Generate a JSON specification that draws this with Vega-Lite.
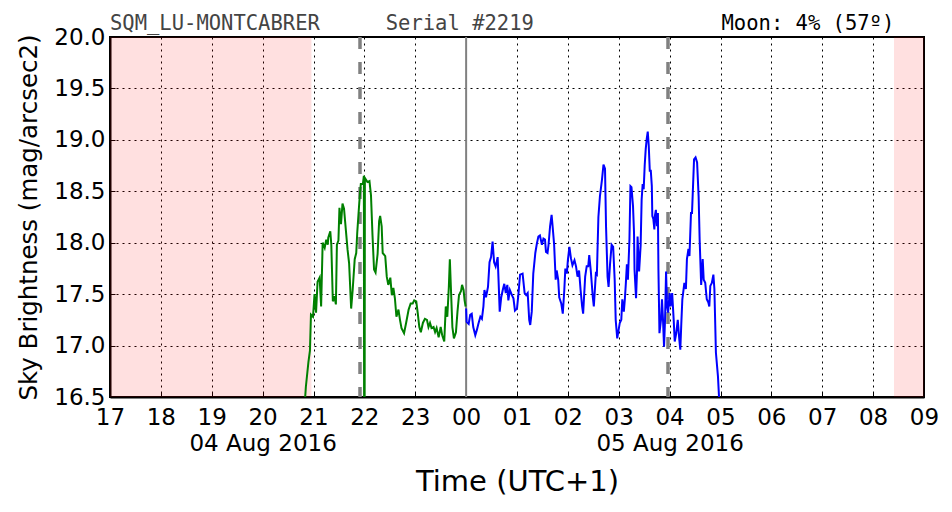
{
  "$schema": "https://vega.github.io/schema/vega-lite/v6.json",
  "width": 814,
  "height": 360,
  "autosize": {"type": "none"},
  "padding": {"left": 110, "top": 37, "right": 28, "bottom": 115},
  "background": "white",
  "config": {
    "font": "DejaVu Sans",
    "view": {"stroke": "black", "strokeWidth": 2},
    "axis": {
      "domainColor": "black",
      "domainWidth": 2,
      "gridColor": "black",
      "gridDash": [2, 4],
      "gridWidth": 1,
      "gridOpacity": 1,
      "tickColor": "black",
      "tickSize": -5,
      "tickWidth": 1,
      "labelColor": "black",
      "labelFontSize": 23,
      "titleColor": "black",
      "titleFontWeight": "normal"
    }
  },
  "datasets": {
    "sqm": [
      {"hour": 20.83, "mag": 16.45, "part": "evening"},
      {"hour": 20.85, "mag": 16.60, "part": "evening"},
      {"hour": 20.90, "mag": 16.84, "part": "evening"},
      {"hour": 20.93, "mag": 16.95, "part": "evening"},
      {"hour": 20.95, "mag": 17.30, "part": "evening"},
      {"hour": 20.99, "mag": 17.28, "part": "evening"},
      {"hour": 21.02, "mag": 17.50, "part": "evening"},
      {"hour": 21.05, "mag": 17.32, "part": "evening"},
      {"hour": 21.08, "mag": 17.62, "part": "evening"},
      {"hour": 21.12, "mag": 17.66, "part": "evening"},
      {"hour": 21.15, "mag": 17.38, "part": "evening"},
      {"hour": 21.18, "mag": 18.00, "part": "evening"},
      {"hour": 21.22, "mag": 17.95, "part": "evening"},
      {"hour": 21.25, "mag": 18.03, "part": "evening"},
      {"hour": 21.28, "mag": 17.98, "part": "evening"},
      {"hour": 21.29, "mag": 18.05, "part": "evening"},
      {"hour": 21.33, "mag": 18.11, "part": "evening"},
      {"hour": 21.35, "mag": 17.98, "part": "evening"},
      {"hour": 21.38, "mag": 17.43, "part": "evening"},
      {"hour": 21.41, "mag": 17.48, "part": "evening"},
      {"hour": 21.44, "mag": 17.40, "part": "evening"},
      {"hour": 21.46, "mag": 17.98, "part": "evening"},
      {"hour": 21.49, "mag": 18.02, "part": "evening"},
      {"hour": 21.51, "mag": 18.34, "part": "evening"},
      {"hour": 21.54, "mag": 18.18, "part": "evening"},
      {"hour": 21.57, "mag": 18.38, "part": "evening"},
      {"hour": 21.60, "mag": 18.33, "part": "evening"},
      {"hour": 21.64, "mag": 18.10, "part": "evening"},
      {"hour": 21.67, "mag": 17.93, "part": "evening"},
      {"hour": 21.70, "mag": 17.80, "part": "evening"},
      {"hour": 21.74, "mag": 17.36, "part": "evening"},
      {"hour": 21.77, "mag": 17.54, "part": "evening"},
      {"hour": 21.81, "mag": 17.84, "part": "evening"},
      {"hour": 21.84, "mag": 17.90, "part": "evening"},
      {"hour": 21.86, "mag": 18.10, "part": "evening"},
      {"hour": 21.90, "mag": 18.39, "part": "evening"},
      {"hour": 21.93, "mag": 18.57, "part": "evening"},
      {"hour": 21.97, "mag": 18.57, "part": "evening"},
      {"hour": 21.99, "mag": 18.65, "part": "evening"},
      {"hour": 22.00, "mag": 14.00, "part": "evening"},
      {"hour": 22.01, "mag": 18.63, "part": "evening"},
      {"hour": 22.06, "mag": 18.59, "part": "evening"},
      {"hour": 22.10, "mag": 18.60, "part": "evening"},
      {"hour": 22.13, "mag": 18.46, "part": "evening"},
      {"hour": 22.16, "mag": 18.07, "part": "evening"},
      {"hour": 22.19, "mag": 17.74, "part": "evening"},
      {"hour": 22.22, "mag": 17.71, "part": "evening"},
      {"hour": 22.26, "mag": 17.89, "part": "evening"},
      {"hour": 22.29, "mag": 18.21, "part": "evening"},
      {"hour": 22.31, "mag": 18.26, "part": "evening"},
      {"hour": 22.34, "mag": 18.16, "part": "evening"},
      {"hour": 22.36, "mag": 17.90, "part": "evening"},
      {"hour": 22.41, "mag": 17.87, "part": "evening"},
      {"hour": 22.44, "mag": 17.67, "part": "evening"},
      {"hour": 22.47, "mag": 17.59, "part": "evening"},
      {"hour": 22.51, "mag": 17.66, "part": "evening"},
      {"hour": 22.54, "mag": 17.49, "part": "evening"},
      {"hour": 22.57, "mag": 17.56, "part": "evening"},
      {"hour": 22.60, "mag": 17.46, "part": "evening"},
      {"hour": 22.63, "mag": 17.28, "part": "evening"},
      {"hour": 22.67, "mag": 17.35, "part": "evening"},
      {"hour": 22.70, "mag": 17.25, "part": "evening"},
      {"hour": 22.73, "mag": 17.17, "part": "evening"},
      {"hour": 22.78, "mag": 17.12, "part": "evening"},
      {"hour": 22.82, "mag": 17.22, "part": "evening"},
      {"hour": 22.87, "mag": 17.35, "part": "evening"},
      {"hour": 22.91, "mag": 17.41, "part": "evening"},
      {"hour": 22.95, "mag": 17.41, "part": "evening"},
      {"hour": 22.98, "mag": 17.44, "part": "evening"},
      {"hour": 23.02, "mag": 17.43, "part": "evening"},
      {"hour": 23.05, "mag": 17.31, "part": "evening"},
      {"hour": 23.08, "mag": 17.18, "part": "evening"},
      {"hour": 23.11, "mag": 17.13, "part": "evening"},
      {"hour": 23.15, "mag": 17.22, "part": "evening"},
      {"hour": 23.19, "mag": 17.26, "part": "evening"},
      {"hour": 23.23, "mag": 17.25, "part": "evening"},
      {"hour": 23.26, "mag": 17.18, "part": "evening"},
      {"hour": 23.29, "mag": 17.22, "part": "evening"},
      {"hour": 23.32, "mag": 17.17, "part": "evening"},
      {"hour": 23.36, "mag": 17.18, "part": "evening"},
      {"hour": 23.39, "mag": 17.13, "part": "evening"},
      {"hour": 23.42, "mag": 17.17, "part": "evening"},
      {"hour": 23.46, "mag": 17.08, "part": "evening"},
      {"hour": 23.50, "mag": 17.18, "part": "evening"},
      {"hour": 23.53, "mag": 17.10, "part": "evening"},
      {"hour": 23.57, "mag": 17.04, "part": "evening"},
      {"hour": 23.60, "mag": 17.38, "part": "evening"},
      {"hour": 23.63, "mag": 17.28, "part": "evening"},
      {"hour": 23.66, "mag": 17.57, "part": "evening"},
      {"hour": 23.68, "mag": 17.84, "part": "evening"},
      {"hour": 23.70, "mag": 17.57, "part": "evening"},
      {"hour": 23.73, "mag": 17.18, "part": "evening"},
      {"hour": 23.76, "mag": 17.07, "part": "evening"},
      {"hour": 23.80, "mag": 17.13, "part": "evening"},
      {"hour": 23.83, "mag": 17.33, "part": "evening"},
      {"hour": 23.86, "mag": 17.49, "part": "evening"},
      {"hour": 23.90, "mag": 17.53, "part": "evening"},
      {"hour": 23.92, "mag": 17.59, "part": "evening"},
      {"hour": 23.95, "mag": 17.54, "part": "evening"},
      {"hour": 23.97, "mag": 17.44, "part": "evening"},
      {"hour": 23.99, "mag": 17.38, "part": "evening"},
      {"hour": 24.00, "mag": 17.36, "part": "morning"},
      {"hour": 24.01, "mag": 17.23, "part": "morning"},
      {"hour": 24.05, "mag": 17.21, "part": "morning"},
      {"hour": 24.08, "mag": 17.30, "part": "morning"},
      {"hour": 24.11, "mag": 17.31, "part": "morning"},
      {"hour": 24.14, "mag": 17.18, "part": "morning"},
      {"hour": 24.18, "mag": 17.10, "part": "morning"},
      {"hour": 24.21, "mag": 17.15, "part": "morning"},
      {"hour": 24.24, "mag": 17.21, "part": "morning"},
      {"hour": 24.28, "mag": 17.28, "part": "morning"},
      {"hour": 24.31, "mag": 17.26, "part": "morning"},
      {"hour": 24.34, "mag": 17.38, "part": "morning"},
      {"hour": 24.36, "mag": 17.54, "part": "morning"},
      {"hour": 24.39, "mag": 17.47, "part": "morning"},
      {"hour": 24.43, "mag": 17.57, "part": "morning"},
      {"hour": 24.46, "mag": 17.81, "part": "morning"},
      {"hour": 24.49, "mag": 17.86, "part": "morning"},
      {"hour": 24.52, "mag": 18.01, "part": "morning"},
      {"hour": 24.55, "mag": 17.81, "part": "morning"},
      {"hour": 24.58, "mag": 17.77, "part": "morning"},
      {"hour": 24.62, "mag": 17.86, "part": "morning"},
      {"hour": 24.64, "mag": 17.60, "part": "morning"},
      {"hour": 24.66, "mag": 17.33, "part": "morning"},
      {"hour": 24.69, "mag": 17.47, "part": "morning"},
      {"hour": 24.72, "mag": 17.54, "part": "morning"},
      {"hour": 24.75, "mag": 17.60, "part": "morning"},
      {"hour": 24.78, "mag": 17.51, "part": "morning"},
      {"hour": 24.81, "mag": 17.59, "part": "morning"},
      {"hour": 24.83, "mag": 17.44, "part": "morning"},
      {"hour": 24.86, "mag": 17.54, "part": "morning"},
      {"hour": 24.90, "mag": 17.49, "part": "morning"},
      {"hour": 24.93, "mag": 17.46, "part": "morning"},
      {"hour": 24.96, "mag": 17.34, "part": "morning"},
      {"hour": 25.00, "mag": 17.36, "part": "morning"},
      {"hour": 25.03, "mag": 17.51, "part": "morning"},
      {"hour": 25.06, "mag": 17.69, "part": "morning"},
      {"hour": 25.11, "mag": 17.70, "part": "morning"},
      {"hour": 25.15, "mag": 17.51, "part": "morning"},
      {"hour": 25.18, "mag": 17.49, "part": "morning"},
      {"hour": 25.21, "mag": 17.51, "part": "morning"},
      {"hour": 25.24, "mag": 17.25, "part": "morning"},
      {"hour": 25.26, "mag": 17.20, "part": "morning"},
      {"hour": 25.29, "mag": 17.33, "part": "morning"},
      {"hour": 25.32, "mag": 17.70, "part": "morning"},
      {"hour": 25.36, "mag": 17.90, "part": "morning"},
      {"hour": 25.39, "mag": 17.99, "part": "morning"},
      {"hour": 25.42, "mag": 18.06, "part": "morning"},
      {"hour": 25.45, "mag": 18.07, "part": "morning"},
      {"hour": 25.49, "mag": 17.98, "part": "morning"},
      {"hour": 25.52, "mag": 18.04, "part": "morning"},
      {"hour": 25.55, "mag": 18.03, "part": "morning"},
      {"hour": 25.57, "mag": 17.91, "part": "morning"},
      {"hour": 25.60, "mag": 17.90, "part": "morning"},
      {"hour": 25.62, "mag": 17.98, "part": "morning"},
      {"hour": 25.65, "mag": 18.16, "part": "morning"},
      {"hour": 25.68, "mag": 18.27, "part": "morning"},
      {"hour": 25.70, "mag": 18.16, "part": "morning"},
      {"hour": 25.73, "mag": 17.98, "part": "morning"},
      {"hour": 25.76, "mag": 17.64, "part": "morning"},
      {"hour": 25.78, "mag": 17.73, "part": "morning"},
      {"hour": 25.81, "mag": 17.64, "part": "morning"},
      {"hour": 25.83, "mag": 17.47, "part": "morning"},
      {"hour": 25.87, "mag": 17.41, "part": "morning"},
      {"hour": 25.90, "mag": 17.31, "part": "morning"},
      {"hour": 25.93, "mag": 17.54, "part": "morning"},
      {"hour": 25.95, "mag": 17.75, "part": "morning"},
      {"hour": 25.98, "mag": 17.70, "part": "morning"},
      {"hour": 26.00, "mag": 17.83, "part": "morning"},
      {"hour": 26.03, "mag": 17.96, "part": "morning"},
      {"hour": 26.06, "mag": 17.85, "part": "morning"},
      {"hour": 26.09, "mag": 17.78, "part": "morning"},
      {"hour": 26.13, "mag": 17.83, "part": "morning"},
      {"hour": 26.16, "mag": 17.77, "part": "morning"},
      {"hour": 26.19, "mag": 17.67, "part": "morning"},
      {"hour": 26.22, "mag": 17.73, "part": "morning"},
      {"hour": 26.25, "mag": 17.54, "part": "morning"},
      {"hour": 26.28, "mag": 17.38, "part": "morning"},
      {"hour": 26.30, "mag": 17.31, "part": "morning"},
      {"hour": 26.34, "mag": 17.67, "part": "morning"},
      {"hour": 26.37, "mag": 17.77, "part": "morning"},
      {"hour": 26.40, "mag": 17.77, "part": "morning"},
      {"hour": 26.42, "mag": 17.88, "part": "morning"},
      {"hour": 26.45, "mag": 17.73, "part": "morning"},
      {"hour": 26.49, "mag": 17.47, "part": "morning"},
      {"hour": 26.51, "mag": 17.38, "part": "morning"},
      {"hour": 26.55, "mag": 17.70, "part": "morning"},
      {"hour": 26.57, "mag": 17.69, "part": "morning"},
      {"hour": 26.60, "mag": 18.25, "part": "morning"},
      {"hour": 26.63, "mag": 18.45, "part": "morning"},
      {"hour": 26.67, "mag": 18.61, "part": "morning"},
      {"hour": 26.70, "mag": 18.76, "part": "morning"},
      {"hour": 26.73, "mag": 18.72, "part": "morning"},
      {"hour": 26.75, "mag": 18.16, "part": "morning"},
      {"hour": 26.78, "mag": 17.67, "part": "morning"},
      {"hour": 26.80, "mag": 17.57, "part": "morning"},
      {"hour": 26.83, "mag": 17.80, "part": "morning"},
      {"hour": 26.86, "mag": 17.98, "part": "morning"},
      {"hour": 26.89, "mag": 17.96, "part": "morning"},
      {"hour": 26.92, "mag": 17.64, "part": "morning"},
      {"hour": 26.94, "mag": 17.25, "part": "morning"},
      {"hour": 26.97, "mag": 17.07, "part": "morning"},
      {"hour": 27.02, "mag": 17.22, "part": "morning"},
      {"hour": 27.05, "mag": 17.25, "part": "morning"},
      {"hour": 27.07, "mag": 17.45, "part": "morning"},
      {"hour": 27.10, "mag": 17.33, "part": "morning"},
      {"hour": 27.12, "mag": 17.45, "part": "morning"},
      {"hour": 27.14, "mag": 17.61, "part": "morning"},
      {"hour": 27.16, "mag": 17.79, "part": "morning"},
      {"hour": 27.18, "mag": 17.64, "part": "morning"},
      {"hour": 27.21, "mag": 18.03, "part": "morning"},
      {"hour": 27.23, "mag": 18.55, "part": "morning"},
      {"hour": 27.25, "mag": 18.54, "part": "morning"},
      {"hour": 27.28, "mag": 18.36, "part": "morning"},
      {"hour": 27.30, "mag": 18.10, "part": "morning"},
      {"hour": 27.31, "mag": 17.74, "part": "morning"},
      {"hour": 27.34, "mag": 17.46, "part": "morning"},
      {"hour": 27.36, "mag": 17.74, "part": "morning"},
      {"hour": 27.37, "mag": 18.06, "part": "morning"},
      {"hour": 27.40, "mag": 17.72, "part": "morning"},
      {"hour": 27.43, "mag": 17.97, "part": "morning"},
      {"hour": 27.45, "mag": 18.42, "part": "morning"},
      {"hour": 27.47, "mag": 18.57, "part": "morning"},
      {"hour": 27.49, "mag": 18.52, "part": "morning"},
      {"hour": 27.51, "mag": 18.75, "part": "morning"},
      {"hour": 27.53, "mag": 18.91, "part": "morning"},
      {"hour": 27.55, "mag": 19.01, "part": "morning"},
      {"hour": 27.57, "mag": 19.08, "part": "morning"},
      {"hour": 27.59, "mag": 18.94, "part": "morning"},
      {"hour": 27.61, "mag": 18.70, "part": "morning"},
      {"hour": 27.63, "mag": 18.70, "part": "morning"},
      {"hour": 27.65, "mag": 18.55, "part": "morning"},
      {"hour": 27.66, "mag": 18.26, "part": "morning"},
      {"hour": 27.68, "mag": 18.23, "part": "morning"},
      {"hour": 27.70, "mag": 18.13, "part": "morning"},
      {"hour": 27.71, "mag": 18.26, "part": "morning"},
      {"hour": 27.73, "mag": 18.32, "part": "morning"},
      {"hour": 27.75, "mag": 18.16, "part": "morning"},
      {"hour": 27.77, "mag": 18.29, "part": "morning"},
      {"hour": 27.78, "mag": 17.74, "part": "morning"},
      {"hour": 27.80, "mag": 17.12, "part": "morning"},
      {"hour": 27.83, "mag": 17.25, "part": "morning"},
      {"hour": 27.85, "mag": 17.45, "part": "morning"},
      {"hour": 27.87, "mag": 17.25, "part": "morning"},
      {"hour": 27.89, "mag": 16.99, "part": "morning"},
      {"hour": 27.91, "mag": 17.25, "part": "morning"},
      {"hour": 27.93, "mag": 17.72, "part": "morning"},
      {"hour": 27.95, "mag": 17.38, "part": "morning"},
      {"hour": 27.97, "mag": 17.32, "part": "morning"},
      {"hour": 28.00, "mag": 17.51, "part": "morning"},
      {"hour": 28.02, "mag": 17.38, "part": "morning"},
      {"hour": 28.05, "mag": 17.51, "part": "morning"},
      {"hour": 28.08, "mag": 17.25, "part": "morning"},
      {"hour": 28.10, "mag": 17.04, "part": "morning"},
      {"hour": 28.13, "mag": 17.12, "part": "morning"},
      {"hour": 28.16, "mag": 17.25, "part": "morning"},
      {"hour": 28.19, "mag": 17.06, "part": "morning"},
      {"hour": 28.21, "mag": 16.96, "part": "morning"},
      {"hour": 28.23, "mag": 17.22, "part": "morning"},
      {"hour": 28.25, "mag": 17.45, "part": "morning"},
      {"hour": 28.29, "mag": 17.61, "part": "morning"},
      {"hour": 28.32, "mag": 17.55, "part": "morning"},
      {"hour": 28.34, "mag": 17.84, "part": "morning"},
      {"hour": 28.37, "mag": 17.94, "part": "morning"},
      {"hour": 28.39, "mag": 17.87, "part": "morning"},
      {"hour": 28.42, "mag": 18.29, "part": "morning"},
      {"hour": 28.44, "mag": 18.29, "part": "morning"},
      {"hour": 28.48, "mag": 18.81, "part": "morning"},
      {"hour": 28.51, "mag": 18.83, "part": "morning"},
      {"hour": 28.54, "mag": 18.78, "part": "morning"},
      {"hour": 28.57, "mag": 18.45, "part": "morning"},
      {"hour": 28.59, "mag": 18.03, "part": "morning"},
      {"hour": 28.62, "mag": 17.59, "part": "morning"},
      {"hour": 28.65, "mag": 17.84, "part": "morning"},
      {"hour": 28.67, "mag": 17.64, "part": "morning"},
      {"hour": 28.70, "mag": 17.61, "part": "morning"},
      {"hour": 28.73, "mag": 17.45, "part": "morning"},
      {"hour": 28.76, "mag": 17.42, "part": "morning"},
      {"hour": 28.78, "mag": 17.38, "part": "morning"},
      {"hour": 28.80, "mag": 17.58, "part": "morning"},
      {"hour": 28.83, "mag": 17.61, "part": "morning"},
      {"hour": 28.86, "mag": 17.69, "part": "morning"},
      {"hour": 28.88, "mag": 17.55, "part": "morning"},
      {"hour": 28.91, "mag": 16.93, "part": "morning"},
      {"hour": 28.95, "mag": 16.70, "part": "morning"},
      {"hour": 28.97, "mag": 16.51, "part": "morning"},
      {"hour": 29.00, "mag": 16.20, "part": "morning"}
    ],
    "daylight": [
      {"start": 17.0, "end": 20.96},
      {"start": 32.41, "end": 33.0}
    ],
    "twilight": [
      {"hour": 21.914},
      {"hour": 27.968}
    ],
    "midnight": [
      {"hour": 24.0}
    ],
    "header": [
      {"text": "SQM_LU-MONTCABRER"}
    ],
    "serial": [
      {"text": "Serial #2219"}
    ],
    "moon": [
      {"text": "Moon: 4% (57º)"}
    ]
  },
  "layer": [
    {
      "data": {"name": "daylight"},
      "mark": {"type": "rect", "color": "#ff0000", "opacity": 0.12},
      "encoding": {
        "x": {
          "field": "start",
          "type": "quantitative",
          "scale": {"domain": [17, 33], "nice": false, "zero": false},
          "axis": {
            "values": [17, 18, 19, 20, 21, 22, 23, 24, 25, 26, 27, 28, 29, 30, 31, 32, 33],
            "grid": true,
            "labelExpr": "datum.value == 20 ? ['20', '04 Aug 2016'] : datum.value == 28 ? ['04', '05 Aug 2016'] : ((datum.value % 24) < 10 ? '0' : '') + (datum.value % 24)",
            "labelLineHeight": 26,
            "labelOverlap": false,
            "labelFlush": false,
            "labelBound": false,
            "labelPadding": 14,
            "title": "Time (UTC+1)",
            "titleFontSize": 29,
            "titlePadding": 12
          }
        },
        "x2": {"field": "end"}
      }
    },
    {
      "data": {"name": "twilight"},
      "mark": {"type": "rule", "color": "#808080", "strokeWidth": 3.5, "strokeDash": [12, 13]},
      "encoding": {"x": {"field": "hour", "type": "quantitative"}}
    },
    {
      "data": {"name": "midnight"},
      "mark": {"type": "rule", "color": "#808080", "strokeWidth": 2},
      "encoding": {"x": {"field": "hour", "type": "quantitative"}}
    },
    {
      "data": {"name": "sqm"},
      "mark": {"type": "line", "strokeWidth": 2, "clip": true},
      "encoding": {
        "x": {"field": "hour", "type": "quantitative"},
        "y": {
          "field": "mag",
          "type": "quantitative",
          "scale": {"domain": [16.5, 20.0], "nice": false, "zero": false},
          "axis": {
            "values": [16.5, 17.0, 17.5, 18.0, 18.5, 19.0, 19.5, 20.0],
            "format": ".1f",
            "grid": true,
            "labelPadding": 10,
            "title": "Sky Brightness (mag/arcsec2)",
            "titleFontSize": 24.5,
            "titlePadding": 12
          }
        },
        "color": {
          "field": "part",
          "type": "nominal",
          "scale": {"domain": ["evening", "morning"], "range": ["#008000", "#0000ff"]},
          "legend": null
        }
      }
    },
    {
      "data": {"name": "header"},
      "mark": {"type": "text", "font": "DejaVu Sans Mono", "fontSize": 20.5, "color": "#444444", "align": "left", "baseline": "alphabetic", "dy": -7},
      "encoding": {
        "x": {"datum": 17.0, "type": "quantitative"},
        "y": {"datum": 20.0, "type": "quantitative"},
        "text": {"field": "text"}
      }
    },
    {
      "data": {"name": "serial"},
      "mark": {"type": "text", "font": "DejaVu Sans Mono", "fontSize": 20.5, "color": "#444444", "align": "left", "baseline": "alphabetic", "dy": -7},
      "encoding": {
        "x": {"datum": 22.42, "type": "quantitative"},
        "y": {"datum": 20.0, "type": "quantitative"},
        "text": {"field": "text"}
      }
    },
    {
      "data": {"name": "moon"},
      "mark": {"type": "text", "font": "DejaVu Sans Mono", "fontSize": 20.5, "color": "black", "align": "left", "baseline": "alphabetic", "dy": -7},
      "encoding": {
        "x": {"datum": 29.02, "type": "quantitative"},
        "y": {"datum": 20.0, "type": "quantitative"},
        "text": {"field": "text"}
      }
    }
  ]
}
